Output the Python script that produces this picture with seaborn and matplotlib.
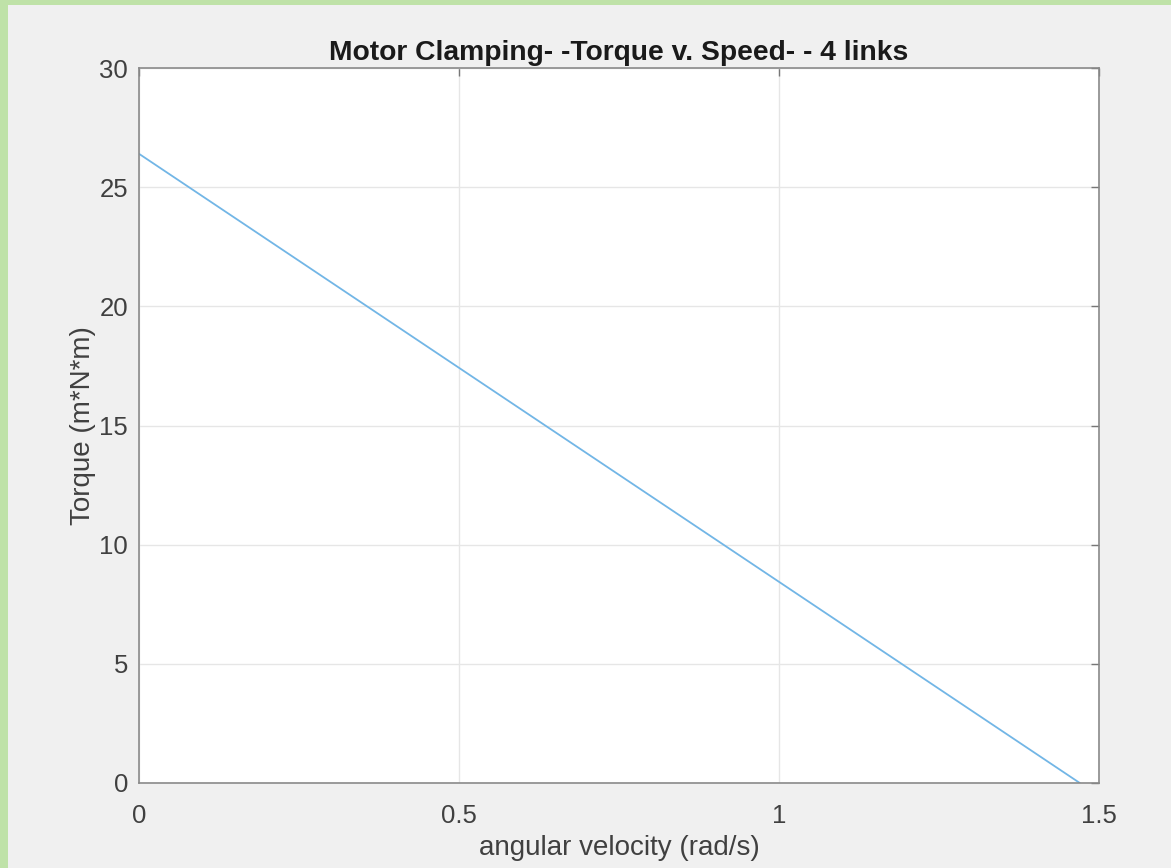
import matplotlib
matplotlib.use("Agg")
import matplotlib.pyplot as plt
import seaborn as sns
import pandas as pd
from matplotlib.patches import Rectangle

# Data
speed = [0.0, 1.47]          # angular velocity (rad/s)
torque = [26.4, 0.0]         # Torque (m*N*m)
x_ticks = [0, 0.5, 1, 1.5]
x_tick_labels = ["0", "0.5", "1", "1.5"]
y_ticks = [0, 5, 10, 15, 20, 25, 30]
y_tick_labels = ["0", "5", "10", "15", "20", "25", "30"]

sns.set_theme(style="white")
plt.rcParams['font.family'] = ['Liberation Sans', 'DejaVu Sans']

W, H = 1171, 868
fig = plt.figure(figsize=(W / 100, H / 100), dpi=100)
fig.patch.set_facecolor('#f0f0f0')
green = '#bfe2a8'
fig.patches.append(Rectangle((0, 0), 8 / W, 1, transform=fig.transFigure,
                             facecolor=green, edgecolor='none'))
fig.patches.append(Rectangle((0, 1 - 5 / H), 1, 5 / H, transform=fig.transFigure,
                             facecolor=green, edgecolor='none'))

ax = fig.add_axes([139 / W, 1 - 783 / H, (1099 - 139) / W, (783 - 68) / H])
ax.set_facecolor('white')

df = pd.DataFrame({"speed": speed, "torque": torque})
sns.lineplot(data=df, x="speed", y="torque", ax=ax, color='#72b6e6', linewidth=1.3)

ax.set_xlim(0, 1.5)
ax.set_ylim(0, 30)
ax.set_xticks(x_ticks)
ax.set_xticklabels(x_tick_labels)
ax.set_yticks(y_ticks)
ax.set_yticklabels(y_tick_labels)
ax.grid(True, color='#e6e6e6', linewidth=1)
ax.set_axisbelow(True)
ax.tick_params(direction='in', length=6, width=1, color='#777777', labelcolor='#404040',
               labelsize=18.5, top=True, right=True)
ax.tick_params(axis='x', pad=15)
ax.tick_params(axis='y', pad=8)

for s in ax.spines.values():
    s.set_color('#8a8a8a')
    s.set_linewidth(1.2)

ax.set_xlabel("angular velocity (rad/s)", fontsize=20, color='#404040', labelpad=5)
ax.set_ylabel("Torque (m*N*m)", fontsize=20, color='#404040', labelpad=2)
ax.set_title("Motor Clamping- -Torque v. Speed- - 4 links", fontsize=20.3,
             fontweight='bold', color='#1a1a1a', pad=6)

fig.savefig("out.png", dpi=100, facecolor=fig.get_facecolor())
